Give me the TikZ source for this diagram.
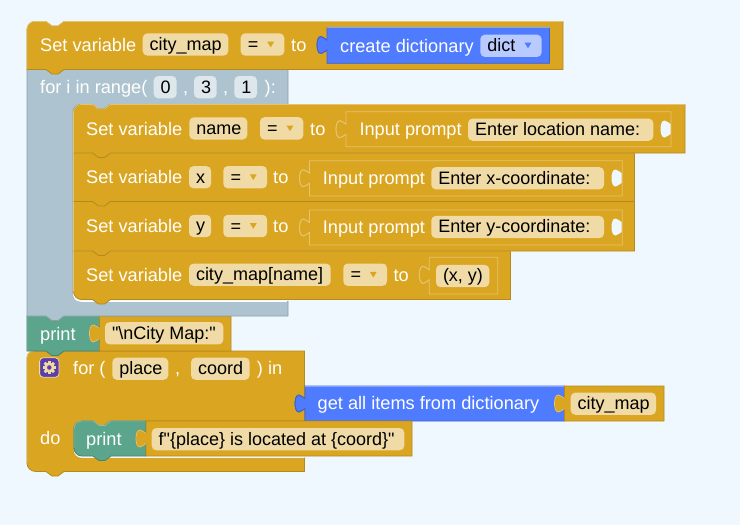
\documentclass[tikz,border=0pt]{standalone}
\usepackage{fontspec}
\setmainfont{Liberation Sans}
\newfontfamily\plainlib{Liberation Sans}
\definecolor{bgc}{HTML}{F0F8FF}
\definecolor{gold}{HTML}{DAA520}
\definecolor{golddk}{HTML}{B38A1E}
\definecolor{goldlt}{HTML}{E6C46E}
\definecolor{fldgold}{HTML}{F0DBA6}
\definecolor{blueb}{HTML}{4F7BFF}
\definecolor{bluedk}{HTML}{3F62CC}
\definecolor{bluelt}{HTML}{84A3FF}
\definecolor{fldblue}{HTML}{B9CAFF}
\definecolor{greyb}{HTML}{ADC4D0}
\definecolor{greydk}{HTML}{8B9DA6}
\definecolor{fldgrey}{HTML}{DEE7EC}
\definecolor{greenb}{HTML}{5BA58C}
\definecolor{greendk}{HTML}{498470}
\definecolor{greenlt}{HTML}{8CC0AE}
\definecolor{purpleb}{HTML}{5B3FA8}
\tikzset{
  txt/.style={anchor=base west,inner sep=0pt,text=white,font=\plainlib\fontsize{18.2}{20}\selectfont},
  fldtxt/.style={anchor=base west,inner sep=0pt,text=black,font=\plainlib\fontsize{18}{20}\selectfont},
  fldbase/.style={rounded corners=4.5pt,inner sep=0pt},
  goldfld/.style={fldbase,fill=fldgold},
  bluefld/.style={fldbase,fill=fldblue},
  greyfld/.style={fldbase,fill=fldgrey},
  goldblk/.style={fill=gold,draw=golddk,line width=.8pt},
  blueblk/.style={fill=blueb,draw=bluedk,line width=.8pt},
  greyblk/.style={fill=greyb,draw=greydk,line width=.8pt},
  greenblk/.style={fill=greenb,draw=greendk,line width=.8pt},
  insetblk/.style={fill=gold,draw=goldlt,line width=.8pt},
}
% statement block: style, x, top, right, bottom, top radius, bottom radius, top edge colour
\newcommand\stmtblk[8]{%
  \filldraw[#1] ({#2},{#3+#6}) .. controls ({#2},{#3+#6*.45}) and ({#2+#6*.45},{#3}) .. ({#2+#6},{#3})
    -- ({#2+19},{#3}) -- ({#2+25},{#3+4.5}) -- ({#2+31},{#3+4.5}) -- ({#2+37},{#3}) -- ({#4},{#3})
    -- ({#4},{#5}) -- ({#2+37},{#5}) -- ({#2+31},{#5+4.5}) -- ({#2+25},{#5+4.5}) -- ({#2+19},{#5})
    -- ({#2+#7},{#5}) .. controls ({#2+#7*.45},{#5}) and ({#2},{#5-#7*.45}) .. ({#2},{#5-#7}) -- cycle;
  \draw[#8,line width=.8pt] ({#2},{#5-#7}) -- ({#2},{#3+#6}) .. controls ({#2},{#3+#6*.45}) and ({#2+#6*.45},{#3}) .. ({#2+#6},{#3})
    -- ({#2+19},{#3}) -- ({#2+25},{#3+4.5}) -- ({#2+31},{#3+4.5}) -- ({#2+37},{#3}) -- ({#4},{#3});
}
% value block with a puzzle tab on the left: style, x, top, right, bottom, tab edge colour
\newcommand\valblk[6]{%
  \filldraw[#1] ({#2},{#5}) -- ({#4},{#5}) -- ({#4},{#3}) -- ({#2},{#3}) -- ({#2},{#3+12.5})
    .. controls ({#2-2},{#3+12.5}) and ({#2-2.5},{#3+9}) .. ({#2-6},{#3+9})
    .. controls ({#2-9},{#3+9}) and ({#2-10},{#3+13.5}) .. ({#2-10},{#3+17.5})
    .. controls ({#2-10},{#3+21.5}) and ({#2-9},{#3+26}) .. ({#2-6},{#3+26})
    .. controls ({#2-2.5},{#3+26}) and ({#2-2},{#3+22.5}) .. ({#2},{#3+22.5}) -- cycle;
  \draw[#6,line width=.8pt] ({#2},{#3+12.5})
    .. controls ({#2-2},{#3+12.5}) and ({#2-2.5},{#3+9}) .. ({#2-6},{#3+9})
    .. controls ({#2-9},{#3+9}) and ({#2-10},{#3+13.5}) .. ({#2-10},{#3+17.5})
    .. controls ({#2-10},{#3+21.5}) and ({#2-9},{#3+26}) .. ({#2-6},{#3+26})
    .. controls ({#2-2.5},{#3+26}) and ({#2-2},{#3+22.5}) .. ({#2},{#3+22.5});
}
% empty socket on the right of an inset: right edge, top of the hole
\newcommand\sockt[2]{%
  \fill[bgc] ({#1},{#2+4})
    .. controls ({#1-2},{#2+4}) and ({#1-2.5},{#2+.5}) .. ({#1-6},{#2+.5})
    .. controls ({#1-9},{#2+.5}) and ({#1-10},{#2+5}) .. ({#1-10},{#2+9})
    .. controls ({#1-10},{#2+13}) and ({#1-9},{#2+17.5}) .. ({#1-6},{#2+17.5})
    .. controls ({#1-2.5},{#2+17.5}) and ({#1-2},{#2+14}) .. ({#1},{#2+14}) -- cycle;
}
\newcommand\arrowdn[3]{\fill[#3] ({#1-3.4},{#2-2.8}) -- ({#1+3.4},{#2-2.8}) -- ({#1},{#2+2.8}) -- cycle;}
% dropdown: name, x1, x2, centre y
\newcommand\eqdrop[4]{%
  \node[goldfld,minimum width={#3-#2},minimum height=22.4pt] (#1) at ({(#2+#3)/2},{#4}) {};
  \node[fldtxt] (#1t) at ({#2+7},{#4+6}) {=};
  \arrowdn{#2+30}{#4}{gold}
}
% field: style, name, x1, x2, centre y, text
\newcommand\fieldn[6]{%
  \node[#1,minimum width={#4-#3},minimum height=22.2pt] (#2) at ({(#3+#4)/2},{#5}) {};
  \node[fldtxt] (#2t) at ({#3+6.8},{#5+5.8}) {#6};
}
\begin{document}
\begin{tikzpicture}[x=1pt,y=-1pt]
\useasboundingbox (0,0) rectangle (740,525);
\fill[bgc] (0,0) rectangle (740,525);

% lower for block
\filldraw[goldblk] (27,358) .. controls (27,354) and (30,351) .. (34,351) -- (46,351) -- (52,355.5) -- (58,355.5) -- (64,351) -- (304.5,351)
  -- (304.5,421) -- (110,421) -- (104,425.5) -- (98,425.5) -- (92,421) -- (82,421) .. controls (77,421) and (73.5,424) .. (73.5,429)
  -- (73.5,449) .. controls (73.5,454) and (77,458) .. (82,458) -- (304.5,458) -- (304.5,471.5) -- (64,471.5) -- (58,476) -- (52,476) -- (46,471.5) -- (36,471.5)
  .. controls (31,471.5) and (27,468) .. (27,463) -- cycle;
\draw[goldlt,line width=.8pt] (27,463) -- (27,358) .. controls (27,354) and (30,351) .. (34,351);
\draw[white!70!fldgold,line width=1pt] (74,449) .. controls (74,454) and (77,457.5) .. (82,457.5) -- (304,457.5);
% blue get-items block and its value
\valblk{blueblk}{305}{386}{564.5}{421}{bluedk}
\draw[bluelt,line width=.8pt] (305,386) -- (564,386);
\valblk{goldblk}{564.5}{386}{664}{421}{goldlt}
\fieldn{goldfld}{cmv}{570.7}{656}{403.7}{city\_map}
\node[txt] (getitems) at (317.5,409.5) {get all items from dictionary};
% gear
\node[fill=purpleb,draw=fldgold,line width=.8pt,rounded corners=3.5pt,minimum size=19.4pt,inner sep=0pt] (gearbox) at (49.3,367.5) {};
\foreach \a in {0,45,...,315}{\fill[fldgold,rotate around={\a:(gearbox.center)}] (47.9,360.9) rectangle (50.7,364);}
\fill[fldgold,even odd rule] (gearbox.center) circle (5.2pt) (gearbox.center) circle (2.4pt);
\node[txt] (forp) at (73,374) {for (};
\fieldn{goldfld}{place}{112.3}{168.3}{368.7}{place}
\node[txt] (comma3) at (175,374) {,};
\fieldn{goldfld}{coord}{191}{249.7}{368.7}{coord}
\node[txt] (inlbl) at (256.7,374) {) in};
\node[txt] (dolbl) at (40,444.5) {do};

% inner print with string
\stmtblk{greenblk}{74}{421}{146}{456}{8}{8}{greenlt}
\valblk{goldblk}{146}{421}{412}{456}{goldlt}
\fieldn{goldfld}{fstr}{151.7}{404.3}{439.2}{f"\{place\} is located at \{coord\}"}
\node[txt] (print2) at (86,445) {print};

% first print
\stmtblk{greenblk}{27}{316}{99.5}{351}{0}{0}{greenlt}
\valblk{goldblk}{99.5}{316}{231}{351}{goldlt}
\fieldn{goldfld}{cmstr}{105}{223.3}{333.3}{"\textbackslash nCity Map:"}
\node[txt] (print1) at (40,340) {print};

% grey range block
\filldraw[greyblk] (27,69) -- (288,69) -- (288,104.5) -- (110,104.5) -- (104,109) -- (98,109) -- (92,104.5) -- (81,104.5)
  .. controls (76,104.5) and (73,108) .. (73,112) -- (73,293) .. controls (73,298) and (76,301.5) .. (81,301.5) -- (288,301.5) -- (288,316)
  -- (64,316) -- (58,320.5) -- (52,320.5) -- (46,316) -- (27,316) -- cycle;
\draw[white,line width=1.2pt] (73.5,293) .. controls (73.5,298) and (76,301.2) .. (81,301.2) -- (287,301.2);
\node[txt] (forlbl) at (40,93.5) {for i in range(};
\fieldn{greyfld}{r0}{153.7}{176.7}{87.2}{0}
\node[txt] (c1) at (183,93.5) {,};
\fieldn{greyfld}{r3}{194}{216.7}{87.2}{3}
\node[txt] (c2) at (223,93.5) {,};
\fieldn{greyfld}{r1}{234.3}{257}{87.2}{1}
\node[txt] (cl) at (264.5,93.5) {):};

% row 4
\stmtblk{goldblk}{73.5}{251}{510.5}{299.5}{0}{8}{goldlt}
\node[txt] (set4) at (86,281) {Set variable};
\fieldn{goldfld}{cmn}{189}{330.7}{274.7}{city\_map[name]}
\eqdrop{d4}{343.3}{387}{274.7}
\node[txt] (to4) at (393.3,281) {to};
\valblk{insetblk}{429.3}{257.3}{497.7}{294}{goldlt}
\fieldn{goldfld}{xy}{436}{489.3}{276}{(x, y)}

% row 3
\stmtblk{goldblk}{73.5}{201.5}{634.5}{251}{0}{0}{goldlt}
\node[txt] (set3) at (86,232) {Set variable};
\fieldn{goldfld}{yv}{189}{211}{226}{y}
\eqdrop{d3}{223.3}{267}{226}
\node[txt] (to3) at (273,232) {to};
\valblk{insetblk}{309.5}{210}{622.3}{245}{goldlt}
\sockt{621.5}{218}
\node[txt] (ip3) at (322.7,233.5) {Input prompt};
\fieldn{goldfld}{yp}{431.3}{604}{227}{Enter y-coordinate:}

% row 2
\stmtblk{goldblk}{73.5}{153}{634.5}{201.5}{0}{0}{goldlt}
\node[txt] (set2) at (86,183.5) {Set variable};
\fieldn{goldfld}{xv}{189}{211}{177.2}{x}
\eqdrop{d2}{223.3}{267}{177.2}
\node[txt] (to2) at (273,183.5) {to};
\valblk{insetblk}{309.5}{160.7}{622.3}{196}{goldlt}
\sockt{621.5}{169}
\node[txt] (ip2) at (322.7,184.5) {Input prompt};
\fieldn{goldfld}{xp}{431.3}{604}{178.3}{Enter x-coordinate:}

% row 1
\stmtblk{goldblk}{73.5}{104.5}{685}{153}{8}{0}{goldlt}
\node[txt] (set1) at (86,135) {Set variable};
\fieldn{goldfld}{nm}{189.3}{247.3}{128.4}{name}
\eqdrop{d1}{260}{303.3}{128.4}
\node[txt] (to1) at (310,135) {to};
\valblk{insetblk}{346}{111.7}{671}{146.7}{goldlt}
\sockt{670.5}{120}
\node[txt] (ip1) at (359.3,135.8) {Input prompt};
\fieldn{goldfld}{lp}{468}{653.3}{129.7}{Enter location name:}

% top block
\stmtblk{goldblk}{27}{21.5}{563}{69.5}{8}{0}{goldlt}
\node[txt] (set0) at (40,51) {Set variable};
\fieldn{goldfld}{cm}{142.7}{228.3}{44.5}{city\_map}
\eqdrop{d0}{240.7}{284.3}{44.5}
\node[txt] (to0) at (291,51) {to};
\valblk{blueblk}{327}{27.5}{549.5}{63.3}{bluedk}
\draw[bluelt,line width=.8pt] (327,27.5) -- (549.5,27.5);
\node[txt] (cd) at (340,52) {create dictionary};
\fieldn{bluefld}{dc}{480.3}{541.7}{45.8}{dict}
\arrowdn{528}{45.5}{blueb}
\end{tikzpicture}
\end{document}
